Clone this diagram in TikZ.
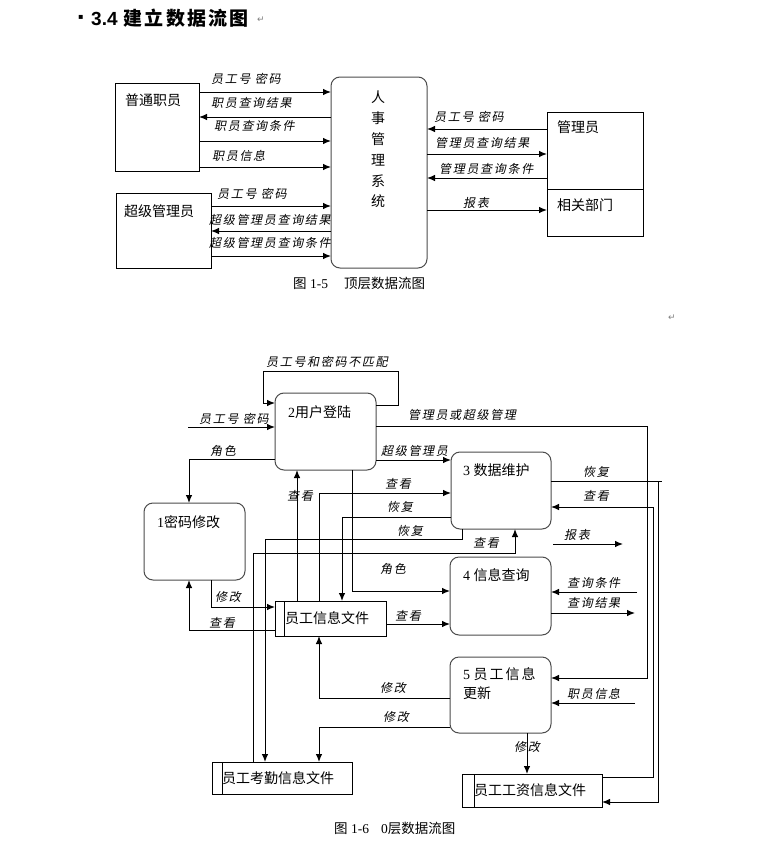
\documentclass[tikz,border=0pt]{standalone}
\usepackage{fontspec}
\setmainfont{Liberation Serif}
\newfontfamily\cjk{Noto Sans CJK SC}
\newfontfamily\cjkit[FakeSlant=0.2,LetterSpace=14]{Noto Sans CJK SC}
\newfontfamily\cjkt[LetterSpace=12]{Noto Sans CJK SC}
\newfontfamily\dvs{DejaVu Sans}
\newfontfamily\lsans{Liberation Sans}
\usetikzlibrary{arrows.meta}
\begin{document}
\begin{tikzpicture}[x=1pt,y=-1pt,
  box/.style={draw, line width=1pt, anchor=north west, inner sep=0pt, outer sep=0pt},
  rbox/.style={box, draw=black!70, rounded corners=9pt},
  txt/.style={anchor=west, inner sep=0pt, font=\cjk\fontsize{14}{16}\selectfont},
  lab/.style={anchor=west, inner sep=0pt, font=\cjkit\fontsize{12}{14}\selectfont},
  arr/.style={line width=1pt, -{Latex[length=8pt,width=6.5pt]}},
  ln/.style={line width=1pt},
]
\useasboundingbox[fill=white] (0,0) rectangle (761,843);

% ---------- title ----------
\node[anchor=west, inner sep=0pt, font=\dvs\fontsize{8}{8}\selectfont] (bul) at (78,17) {▪};
\node[anchor=west, inner sep=0pt, font=\bfseries\fontsize{19}{21}\selectfont] (title) at (91,18) {{\lsans 3.4}\hspace{6pt}{\cjkt 建立数据流图}};
\node[anchor=west, inner sep=0pt, font=\dvs\fontsize{9}{10}\selectfont, text=gray] (pm1) at (257,20) {↵};
\node[anchor=west, inner sep=0pt, font=\dvs\fontsize{9}{10}\selectfont, text=gray] (pm2) at (668,318) {↵};

% ---------- top-level diagram ----------
\node[box, minimum width=84pt, minimum height=88pt] (pt) at (115,83) {};
\node[txt] (ptT) at (125,100) {普通职员};
\node[box, minimum width=95pt, minimum height=75pt] (sa) at (116,193) {};
\node[txt] (saT) at (124,211) {超级管理员};
\node[rbox, minimum width=96pt, minimum height=191pt] (sys) at (331,77) {};
\node[anchor=north, inner sep=0pt, align=center, font=\cjk\fontsize{14}{20.8}\selectfont] (sysT) at (378,91) {人\\事\\管\\理\\系\\统};
\node[box, minimum width=96pt, minimum height=77pt] (gl) at (547,112) {};
\node[txt] (glT) at (557,127) {管理员};
\node[box, minimum width=96pt, minimum height=47pt] (bm) at (547,189) {};
\node[txt] (bmT) at (557,205) {相关部门};

\draw[arr] (pt.east |- 0,92) -- (sys.west |- 0,92);
\draw[arr] (sys.west |- 0,117) -- (pt.east |- 0,117);
\draw[arr] (pt.east |- 0,141) -- (sys.west |- 0,141);
\draw[arr] (pt.east |- 0,167) -- (sys.west |- 0,167);
\draw[arr] (sa.east |- 0,206) -- (sys.west |- 0,206);
\draw[arr] (sys.west |- 0,231) -- (sa.east |- 0,231);
\draw[arr] (sa.east |- 0,256) -- (sys.west |- 0,256);
\draw[arr] (gl.west |- 0,129) -- (sys.east |- 0,129);
\draw[arr] (sys.east |- 0,154) -- (gl.west |- 0,154);
\draw[arr] (gl.west |- 0,178) -- (sys.east |- 0,178);
\draw[arr] (sys.east |- 0,210) -- (bm.west |- 0,210);

\node[lab] (t1) at (211,79) {员工号 密码};
\node[lab] (t2) at (211,103) {职员查询结果};
\node[lab] (t3) at (214,126) {职员查询条件};
\node[lab] (t4) at (212,156) {职员信息};
\node[lab] (t5) at (217,194) {员工号 密码};
\node[lab] (t6) at (209,220) {超级管理员查询结果};
\node[lab] (t7) at (209,243) {超级管理员查询条件};
\node[lab] (t8) at (434,117) {员工号 密码};
\node[lab] (t9) at (435,143) {管理员查询结果};
\node[lab] (t10) at (439,169) {管理员查询条件};
\node[lab] (t11) at (463,203) {报表};

\node[anchor=west, inner sep=0pt, font=\fontsize{13.5}{15}\selectfont] (cap1) at (293,283) {{\cjk 图} 1-5\hspace{16pt}{\cjk 顶层数据流图}};

% ---------- level-0 diagram ----------
\node[rbox, minimum width=101pt, minimum height=77pt] (n2) at (275,393) {};
\node[txt] (n2T) at (288,412) {{\rmfamily 2}用户登陆};
\node[rbox, minimum width=101pt, minimum height=77pt] (n1) at (144,503) {};
\node[txt] (n1T) at (157,522) {{\rmfamily 1}密码修改};
\node[rbox, minimum width=100pt, minimum height=77pt] (n3) at (451,452) {};
\node[txt] (n3T) at (463,470) {{\rmfamily 3 }数据维护};
\node[rbox, minimum width=101pt, minimum height=78pt] (n4) at (450,557) {};
\node[txt] (n4T) at (463,575) {{\rmfamily 4 }信息查询};
\node[rbox, minimum width=101pt, minimum height=76pt] (n5) at (450,657) {};
\node[txt, align=left, font=\cjk\fontsize{14}{19}\selectfont, anchor=north west] (n5T) at (463,667) {{\rmfamily 5 }员\hspace{2pt}工\hspace{2pt}信\hspace{2pt}息\\更新};

\node[box, minimum width=111pt, minimum height=35pt] (f1) at (275,601) {};
\draw[ln] ([xshift=9pt]f1.north west) -- ([xshift=9pt]f1.south west);
\node[txt] (f1T) at (285,618) {员工信息文件};
\node[box, minimum width=140pt, minimum height=32pt] (f2) at (212,762) {};
\draw[ln] ([xshift=10pt]f2.north west) -- ([xshift=10pt]f2.south west);
\node[txt] (f2T) at (222,778) {员工考勤信息文件};
\node[box, minimum width=140pt, minimum height=33pt] (f3) at (462,774) {};
\draw[ln] ([xshift=12pt]f3.north west) -- ([xshift=12pt]f3.south west);
\node[txt] (f3T) at (474,790) {员工工资信息文件};

% connectors
\draw[arr] (n2.east |- 0,405) -- (398,405) -- (398,371) -- (263,371) -- (263,403) -- (n2.west |- 0,403);
\coordinate (inA) at (188,427);
\draw[arr] (inA) -- (n2.west |- inA);
\draw[arr] (n2.east |- 0,426) -- (647,426) -- (647,678) -- (n5.east |- 0,678);
\draw[arr] (n2.west |- 0,459) -- (189,459) -- (n1.north -| 189,0);
\draw[arr] (n2.east |- 0,460) -- (n3.west |- 0,460);
\draw[arr] (f1.north -| 297,0) -- (n2.south -| 297,0);
\draw[arr] (f1.north -| 319,0) -- (319,493) -- (n3.west |- 0,493);
\draw[arr] (n3.west |- 0,517) -- (342,517) -- (f1.north -| 342,0);
\draw[arr] (n3.south -| 462,0) -- (462,539) -- (265,539) -- (f2.north -| 265,0);
\draw[arr] (f2.north -| 253,0) -- (253,553) -- (515,553) -- (n3.south -| 515,0);
\draw[arr] (n2.south -| 352,0) -- (352,591) -- (n4.west |- 0,591);
\draw[arr] (f1.east |- 0,624) -- (n4.west |- 0,624);
\draw[arr] (n1.south -| 211,0) -- (211,607) -- (f1.west |- 0,607);
\draw[arr] (f1.west |- 0,630) -- (189,630) -- (n1.south -| 189,0);
\draw[arr] (n5.west |- 0,698) -- (319,698) -- (f1.south -| 319,0);
\draw[arr] (n5.west |- 0,727) -- (319,727) -- (f2.north -| 319,0);
\draw[arr] (n5.south -| 527,0) -- (f3.north -| 527,0);
\draw[arr] (n3.east |- 0,481) -- (658,481) -- (658,802) -- (f3.east |- 0,802);
\draw[ln] (658,481) -- (662,481);
\draw[arr] (f3.east |- 0,777) -- (653,777) -- (653,507) -- (n3.east |- 0,507);
\coordinate (rb1) at (553,544);
\coordinate (rb2) at (623,544);
\draw[arr] (rb1) -- (rb2);
\coordinate (qc) at (637,592);
\draw[arr] (qc) -- (n4.east |- qc);
\coordinate (qr) at (635,613);
\draw[arr] (n4.east |- qr) -- (qr);
\coordinate (zy) at (635,703);
\draw[arr] (zy) -- (n5.east |- zy);

% labels
\node[lab] (b1) at (266,362) {员工号和密码不匹配};
\node[lab] (b2) at (199,419) {员工号 密码};
\node[lab] (b3) at (408,415) {管理员或超级管理};
\node[lab] (b4) at (210,451) {角色};
\node[lab] (b5) at (381,451) {超级管理员};
\node[lab] (b6) at (287,496) {查看};
\node[lab] (b7) at (385,484) {查看};
\node[lab] (b8) at (387,507) {恢复};
\node[lab] (b9) at (397,531) {恢复};
\node[lab] (b10) at (473,543) {查看};
\node[lab] (b11) at (380,569) {角色};
\node[lab] (b12) at (395,616) {查看};
\node[lab] (b13) at (215,597) {修改};
\node[lab] (b14) at (209,623) {查看};
\node[lab] (b15) at (380,688) {修改};
\node[lab] (b16) at (383,717) {修改};
\node[lab] (b17) at (514,747) {修改};
\node[lab] (b18) at (583,472) {恢复};
\node[lab] (b19) at (583,496) {查看};
\node[lab] (b20) at (564,535) {报表};
\node[lab] (b21) at (567,583) {查询条件};
\node[lab] (b22) at (567,603) {查询结果};
\node[lab] (b23) at (567,694) {职员信息};

\node[anchor=west, inner sep=0pt, font=\fontsize{13.5}{15}\selectfont] (cap2) at (334,828) {{\cjk 图} 1-6\hspace{12pt}0{\cjk 层数据流图}};
\end{tikzpicture}
\end{document}
